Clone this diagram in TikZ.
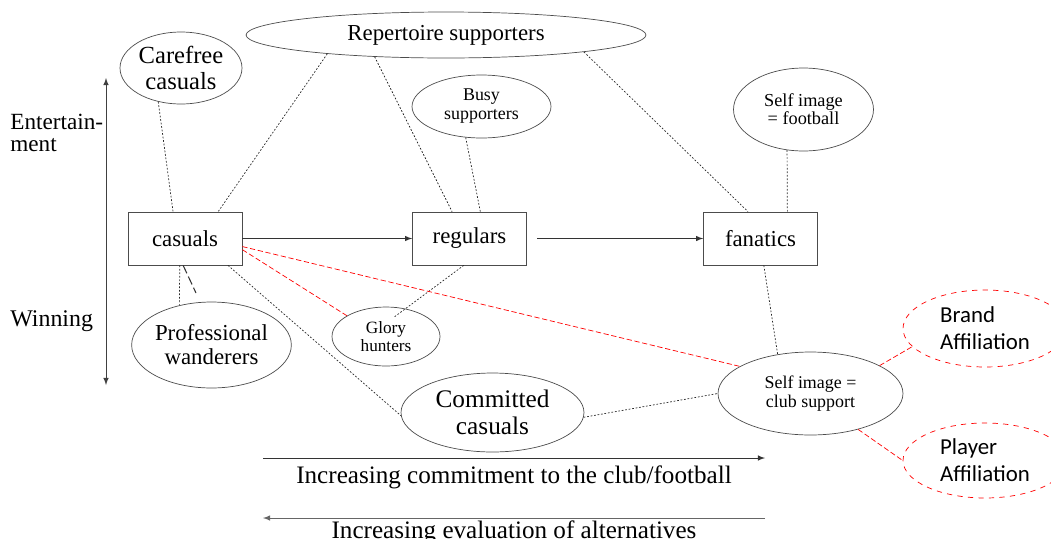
\documentclass[tikz,border=0pt]{standalone}
\usepackage{fontspec}
\setmainfont{Liberation Serif}
\setsansfont{Carlito}
\usetikzlibrary{shapes.geometric}

\tikzset{
  grp/.style={ellipse,draw=black!70,inner sep=0pt,align=center},
  aff/.style={ellipse,draw=red,dashed,inner sep=0pt,align=left,
    minimum width=3.28cm,font=\sffamily\fontsize{13}{15.5}\selectfont},
  kind/.style={rectangle,draw=black!70,minimum width=2.28cm,minimum height=1.06cm,
    font=\rmfamily\fontsize{13}{15}\selectfont},
  link/.style={black!85,dash pattern=on 1pt off 1pt},
  rlink/.style={red,dash pattern=on 3pt off 1.5pt},
}

\begin{document}
\begin{tikzpicture}[x=0.02cm,y=-0.02cm]
  \useasboundingbox (0,0) rectangle (1051,538);

  % axis on the left
  \coordinate (ytop) at (106,78);
  \coordinate (ybot) at (106,385);
  \draw[latex-latex,black!75] (ytop) -- (ybot);
  \node[anchor=west,inner sep=0pt,align=left,font=\rmfamily\fontsize{13.2}{12.8}\selectfont] (ent) at (10,133) {Entertain-\\ment};
  \node[anchor=west,inner sep=0pt,font=\rmfamily\fontsize{13.6}{15}\selectfont] (win) at (10,321) {Winning};

  % main chain
  \node[kind] (cas) at (185,238.5) {casuals};
  \node[kind] (reg) at (469.5,238.5) {regulars};
  \node[kind] (fan) at (760.5,238.5) {fanatics};

  % groups
  \node[grp,minimum width=2.44cm,minimum height=1.44cm,font=\rmfamily\fontsize{14}{15}\selectfont] (care) at (181,68) {Carefree\\casuals};
  \node[grp,minimum width=8cm,minimum height=0.92cm,font=\rmfamily\fontsize{13}{15}\selectfont] (rep) at (446,35) {Repertoire supporters};
  \node[grp,minimum width=2.78cm,minimum height=1.26cm,font=\rmfamily\fontsize{10.2}{10.8}\selectfont] (busy) at (481.5,106.5) {Busy\\supporters};
  \node[grp,minimum width=2.8cm,minimum height=1.66cm,font=\rmfamily\fontsize{10.4}{10.4}\selectfont] (foot) at (803.5,109.5) {Self image\\= football};
  \node[grp,minimum width=3.04cm,minimum height=1.72cm,font=\rmfamily\fontsize{13}{13.6}\selectfont] (prof) at (211.5,345) {Professional\\wanderers};
  \node[grp,minimum width=2.16cm,minimum height=1.18cm,font=\rmfamily\fontsize{9.8}{9.8}\selectfont] (glory) at (386,336.5) {Glory\\hunters};
  \node[grp,minimum width=3.66cm,minimum height=1.58cm,font=\rmfamily\fontsize{14.4}{15.3}\selectfont] (com) at (492.5,412.5) {Committed\\casuals};
  \node[grp,minimum width=3.7cm,minimum height=1.66cm,font=\rmfamily\fontsize{10.2}{10.8}\selectfont] (club) at (810.5,393.5) {Self image =\\club support};
  \node[aff,minimum height=1.54cm] (brand) at (985,328.5) {Brand\\Affiliation};
  \node[aff,minimum height=1.5cm] (play) at (985,460.5) {Player\\Affiliation};

  \draw[-latex,black!80] (cas) -- (reg);
  \draw[-latex,black!80] ([xshift=6pt]reg.east) -- (fan);

  \path[link]
  (care.236) edge (cas.114)
  (rep.189) edge (cas.39)
  (rep.197) edge (reg.123)
  (rep.353) edge (fan.115)
  (busy.243) edge (reg.68)
  (foot.248) edge (fan.45)
  (fan.277) edge (club.130)
  (cas.259) edge (prof.129)
  (reg.258) edge[shorten >=-8pt] (glory.55)
  (cas.328) edge (com.182)
  (com.357) edge (club.180)
  ;
  \coordinate (stub) at (196,293);
  \draw[black!80,semithick,dash pattern=on 5pt off 2pt] (cas.266) -- (stub);

  \path[rlink]
  (cas.349) edge (glory.152)
  (cas.352) edge (club.159)
  (club.22) edge (brand.194)
  (club.323) edge (play.180)
  ;

  % bottom scales
  \coordinate (c1) at (263,458);
  \coordinate (c2) at (765,458);
  \coordinate (e1) at (765,518);
  \coordinate (e2) at (263,518);
  \draw[-latex,black!80] (c1) -- node[below=1pt,text=black,font=\rmfamily\fontsize{14.3}{16}\selectfont] (lc) {Increasing commitment to the club/football} (c2);
  \draw[-latex,black!60] (e1) -- node[below=-2pt,text=black,font=\rmfamily\fontsize{14.3}{16}\selectfont] (le) {Increasing evaluation of alternatives} (e2);
\end{tikzpicture}
\end{document}
